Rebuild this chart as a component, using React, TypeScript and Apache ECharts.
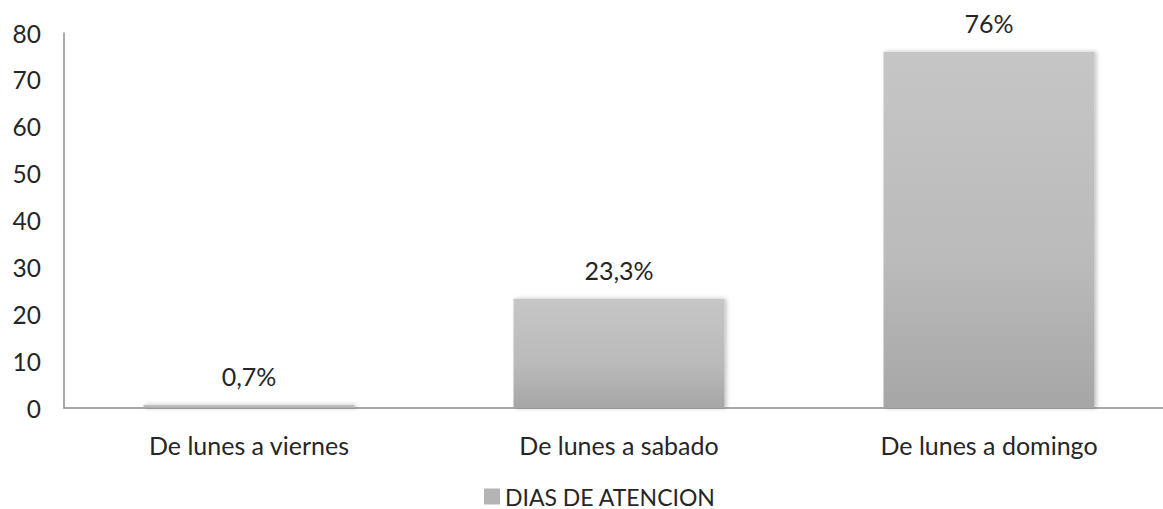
import React, { useEffect, useRef } from "react";
import * as echarts from "echarts";

const categories = ["De lunes a viernes", "De lunes a sabado", "De lunes a domingo"];
const values = [0.7, 23.3, 76];
const valueLabels = ["0,7%", "23,3%", "76%"];
const seriesName = "DIAS DE ATENCION";

export default function App() {
  const ref = useRef<HTMLDivElement>(null);
  useEffect(() => {
    const chart = echarts.init(ref.current!, null, { renderer: "svg" });
    const font = "Lato, 'Open Sans', sans-serif";
    chart.setOption({
      animation: false,
      backgroundColor: "#ffffff",
      grid: {
        left: 64,
        width: 1110,
        top: 33,
        height: 375,
        containLabel: false,
        outerBoundsMode: "none",
      },
      legend: {
        bottom: 1,
        left: 484,
        padding: 0,
        icon: "rect",
        itemWidth: 16,
        itemHeight: 16,
        itemGap: 8,
        textStyle: { fontFamily: font, fontSize: 23, color: "#262626" },
        data: [{ name: seriesName, itemStyle: { color: "#b4b4b4" } }],
      },
      xAxis: {
        type: "category",
        data: categories,
        axisTick: { show: false },
        axisLine: { lineStyle: { color: "#8c8c8c", width: 1.5 } },
        axisLabel: { fontFamily: font, fontSize: 25, color: "#262626", margin: 24 },
      },
      yAxis: {
        type: "value",
        min: 0,
        max: 80,
        interval: 10,
        splitLine: { show: false },
        axisTick: { show: false },
        axisLine: { show: true, lineStyle: { color: "#8c8c8c", width: 1.5 } },
        axisLabel: { fontFamily: font, fontSize: 24.5, color: "#262626", margin: 23 },
      },
      series: [
        {
          name: seriesName,
          type: "bar",
          barWidth: "57%",
          data: values.map((v, i) => ({
            value: v,
            label: { formatter: valueLabels[i] },
          })),
          itemStyle: {
            color: new echarts.graphic.LinearGradient(0, 0, 0, 1, [
              { offset: 0, color: "#c6c6c6" },
              { offset: 0.6, color: "#bababa" },
              { offset: 1, color: "#a6a6a6" },
            ]),
            shadowBlur: 4,
            shadowOffsetX: 2,
            shadowOffsetY: 0,
            shadowColor: "rgba(0,0,0,0.25)",
          },
          label: {
            show: true,
            position: "top",
            distance: 16,
            fontFamily: font,
            fontSize: 25,
            color: "#262626",
          },
        },
      ],
    });
    return () => chart.dispose();
  }, []);
  return (
    <div
      ref={ref}
      style={{ position: "fixed", left: 0, top: 0, width: 1163, height: 509, background: "#fff" }}
    />
  );
}
